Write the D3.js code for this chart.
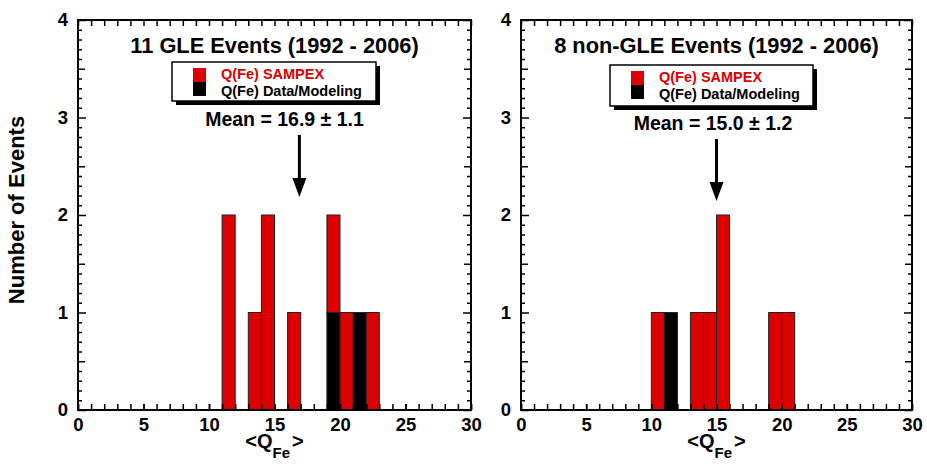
<!DOCTYPE html>
<html>
<head>
<meta charset="utf-8">
<script src="https://cdn.jsdelivr.net/npm/d3@7"></script>
<style>
  html, body { margin: 0; padding: 0; background: #fff; }
  svg { display: block; }
  text { font-family: "Liberation Sans", Arial, Helvetica, sans-serif; font-weight: bold; }
</style>
</head>
<body>
<svg id="chart" width="927" height="474"></svg>
<script>
// Histogram of mean iron charge state <Q_Fe>, bins of width 1 (lower edges listed)
const gleBins       = [11, 13, 14, 16, 19, 20, 21, 22];
const gleSampex     = [ 2,  1,  2,  1,  1,  1,  0,  1];
const gleModel      = [ 0,  0,  0,  0,  1,  0,  1,  0];

const nonGleBins    = [10, 11, 13, 14, 15, 19, 20];
const nonGleSampex  = [ 1,  0,  1,  1,  2,  1,  1];
const nonGleModel   = [ 0,  1,  0,  0,  0,  0,  0];

const panelTitles   = ["11 GLE Events (1992 - 2006)", "8 non-GLE Events (1992 - 2006)"];
const meanValues    = [16.9, 15.0];
const meanErrors    = [1.1, 1.2];

const xTickLabels   = [0, 5, 10, 15, 20, 25, 30];
const yTickLabels   = [0, 1, 2, 3, 4];
const legendLabels  = ["Q(Fe) SAMPEX", "Q(Fe) Data/Modeling"];

const RED = "#dd0000";
const svg = d3.select("#chart");

const panels = [
  { left: 78,  right: 471, bins: gleBins,    sampex: gleSampex,    model: gleModel,
    title: panelTitles[0], mean: meanValues[0], err: meanErrors[0],
    legend: { x: 172, y: 62, w: 204, h: 39 } },
  { left: 521, right: 912, bins: nonGleBins, sampex: nonGleSampex, model: nonGleModel,
    title: panelTitles[1], mean: meanValues[1], err: meanErrors[1],
    legend: { x: 610, y: 65, w: 203, h: 41 } }
];
const plotTop = 20, plotBottom = 410;

const y = d3.scaleLinear().domain([0, 4]).range([plotBottom, plotTop]);

panels.forEach((p, i) => {
  const x = d3.scaleLinear().domain([0, 30]).range([p.left, p.right]);
  const g = svg.append("g");

  // stacked bars: modeling (black) at the base, SAMPEX (red) on top
  const rows = p.bins.map((b, k) => ({ bin: b, model: p.model[k], sampex: p.sampex[k] }));
  const series = d3.stack().keys(["model", "sampex"])(rows);
  const colors = { model: "#000", sampex: RED };
  series.forEach(s => {
    g.selectAll(null)
      .data(s.filter(d => d[1] > d[0]))
      .join("rect")
      .attr("x", d => x(d.data.bin))
      .attr("width", d => x(d.data.bin + 1) - x(d.data.bin))
      .attr("y", d => y(d[1]))
      .attr("height", d => y(d[0]) - y(d[1]))
      .attr("fill", colors[s.key])
      .attr("stroke", "#222")
      .attr("stroke-width", 1);
  });

  // tick marks on all four sides, pointing inward
  const minorY = d3.range(1, 40).map(v => v / 10).filter(v => Math.abs(v * 2 - Math.round(v * 2)) > 1e-6);
  const halfY = [0.5, 1.5, 2.5, 3.5];
  const unitX = d3.range(0, 31);

  const tickStyle = sel => {
    sel.select(".domain").remove();
    sel.selectAll(".tick line").attr("stroke", "#000").attr("stroke-width", 1.5);
  };

  g.append("g").attr("transform", `translate(${p.left},0)`)
    .call(d3.axisLeft(y).tickValues(minorY).tickSize(-4).tickFormat(""))
    .call(tickStyle);
  g.append("g").attr("transform", `translate(${p.left},0)`)
    .call(d3.axisLeft(y).tickValues(halfY).tickSize(-7).tickFormat(""))
    .call(tickStyle);
  g.append("g").attr("transform", `translate(${p.left},0)`)
    .call(d3.axisLeft(y).tickValues(yTickLabels).tickSize(-8).tickPadding(10).tickFormat(d3.format("d")))
    .call(tickStyle)
    .call(s => s.selectAll("text").attr("font-size", 18.5).attr("fill", "#000"));

  g.append("g").attr("transform", `translate(${p.right},0)`)
    .call(d3.axisRight(y).tickValues(minorY).tickSize(-4).tickFormat(""))
    .call(tickStyle);
  g.append("g").attr("transform", `translate(${p.right},0)`)
    .call(d3.axisRight(y).tickValues(halfY).tickSize(-7).tickFormat(""))
    .call(tickStyle);
  g.append("g").attr("transform", `translate(${p.right},0)`)
    .call(d3.axisRight(y).tickValues(yTickLabels).tickSize(-8).tickFormat(""))
    .call(tickStyle);

  g.append("g").attr("transform", `translate(0,${plotBottom})`)
    .call(d3.axisBottom(x).tickValues(unitX).tickSize(-6).tickFormat(""))
    .call(tickStyle);
  g.append("g").attr("transform", `translate(0,${plotBottom})`)
    .call(d3.axisBottom(x).tickValues(xTickLabels).tickSize(-6).tickPadding(8).tickFormat(d3.format("d")))
    .call(tickStyle)
    .call(s => s.selectAll("text").attr("font-size", 18.5).attr("fill", "#000"));
  g.append("g").attr("transform", `translate(0,${plotTop})`)
    .call(d3.axisTop(x).tickValues(unitX).tickSize(-6).tickFormat(""))
    .call(tickStyle);

  // frame
  g.append("rect")
    .attr("x", p.left).attr("y", plotTop)
    .attr("width", p.right - p.left).attr("height", plotBottom - plotTop)
    .attr("fill", "none").attr("stroke", "#000").attr("stroke-width", 2);

  // x-axis title <Q_Fe>
  const cx = (p.left + p.right) / 2;
  const xt = g.append("text").attr("x", cx).attr("y", 448)
    .attr("text-anchor", "middle").attr("font-size", 20).attr("fill", "#000");
  xt.append("tspan").text("<Q");
  xt.append("tspan").attr("font-size", 15).attr("dy", 10).text("Fe");
  xt.append("tspan").attr("dy", -10).attr("dx", 2).text(">");

  // panel title
  g.append("text").attr("x", cx).attr("y", 53)
    .attr("text-anchor", "middle").attr("font-size", 21.8).attr("fill", "#000")
    .text(p.title);

  // legend box with drop shadow
  const L = p.legend;
  g.append("rect").attr("x", L.x + 4).attr("y", L.y + 4).attr("width", L.w).attr("height", L.h).attr("fill", "#000");
  g.append("rect").attr("x", L.x).attr("y", L.y).attr("width", L.w).attr("height", L.h)
    .attr("fill", "#fff").attr("stroke", "#000").attr("stroke-width", 1.5);
  const sx = L.x + 21, sy = L.y + 6;
  g.append("rect").attr("x", sx).attr("y", sy).attr("width", 13).attr("height", 14).attr("fill", RED);
  g.append("rect").attr("x", sx).attr("y", sy + 14).attr("width", 13).attr("height", 14).attr("fill", "#000");
  const lt = g.append("text").attr("font-size", 14.5);
  lt.append("tspan").attr("x", sx + 28).attr("y", sy + 11).attr("fill", RED).text(legendLabels[0]);
  lt.append("tspan").attr("x", sx + 28).attr("y", sy + 28).attr("fill", "#000").text(legendLabels[1]);

  // mean annotation and arrow
  const mx = x(p.mean);
  const textY = i === 0 ? 126 : 130;
  g.append("text").attr("x", i === 0 ? 284.5 : 713).attr("y", textY)
    .attr("text-anchor", "middle").attr("font-size", 19.5).attr("fill", "#000")
    .text(`Mean = ${p.mean.toFixed(1)} ± ${p.err.toFixed(1)}`);
  const tipY = textY + 71;
  g.append("line").attr("x1", mx).attr("x2", mx).attr("y1", textY + 9).attr("y2", tipY - 17)
    .attr("stroke", "#000").attr("stroke-width", 3);
  g.append("path")
    .attr("d", `M${mx - 7},${tipY - 19} L${mx + 7},${tipY - 19} L${mx},${tipY} Z`)
    .attr("fill", "#000");
});

// shared y-axis title
svg.append("text")
  .attr("transform", `translate(24,210) rotate(-90)`)
  .attr("text-anchor", "middle").attr("font-size", 22).attr("fill", "#000")
  .text("Number of Events");
</script>
</body>
</html>
